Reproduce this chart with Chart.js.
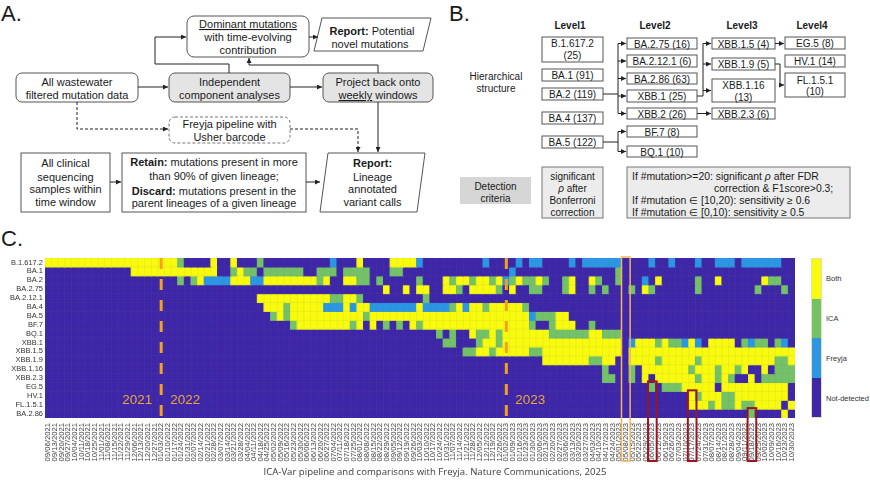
<!DOCTYPE html>
<html lang="en">
<head>
<meta charset="UTF-8">
<title>ICA-Var pipeline and comparisons with Freyja</title>
<script src="https://cdn.jsdelivr.net/npm/chart.js"></script>
<style>
    body {
        margin: 0;
        width: 870px;
        height: 486px;
        background: #fff;
        position: relative;
        overflow: hidden;
        font-family: "Liberation Sans", Arial, sans-serif;
    }
    #diagram { position: absolute; left: 0; top: 0; }
    #diagram text { font-family: "Liberation Sans", Arial, sans-serif; fill: #1a1a1a; }
    .ta { font-size: 11px; text-anchor: middle; }
    .tb { font-size: 10px; text-anchor: middle; }
    .tc { font-size: 10.4px; }
    .box { fill: #fff; stroke: #555; stroke-width: 1; }
    .grey { fill: #e4e4e4; stroke: #555; stroke-width: 1; }
    .lnk { fill: none; stroke: #222; stroke-width: 1; }
    .panel { font-size: 22px; }
    .chart-wrap { position: absolute; left: 0; top: 250px; width: 806px; height: 222px; }
    .colorbar { position: absolute; left: 811px; top: 258px; width: 11px; height: 160px; border: 1px solid #e8e0b0; box-sizing: border-box; }
    .colorbar div { height: 25%; }
    .cb-label { position: absolute; left: 826px; font-size: 7.5px; color: #333; transform: translateY(-50%); }
    .panel-c { position: absolute; left: 1px; top: 226px; font-size: 22px; color: #1a1a1a; }
    .caption { position: absolute; left: 0; top: 465px; width: 870px; text-align: center; font-family: "Open Sans", sans-serif; font-size: 9.6px; color: #3c3c3c; }
</style>
</head>
<body>
<svg id="diagram" width="870" height="225" viewBox="0 0 870 225">
    <defs>
        <marker id="ah" viewBox="0 0 6 6" refX="6" refY="3" markerWidth="5" markerHeight="5" orient="auto">
            <path d="M0,0 L6,3 L0,6 z" fill="#222"/>
        </marker>
    </defs>

    <!-- panel A -->
    <text x="1" y="21" class="panel">A.</text>

    <rect class="box" x="187" y="16" width="122" height="41" rx="7"/>
    <text class="ta" x="248" y="28"><tspan text-decoration="underline">Dominant mutations</tspan></text>
    <text class="ta" x="248" y="41">with time-evolving</text>
    <text class="ta" x="248" y="54">contribution</text>

    <polygon class="box" points="322,18 431,18 423,51 314,51"/>
    <text class="ta" x="372" y="35"><tspan font-weight="bold">Report:</tspan> Potential</text>
    <text class="ta" x="370" y="48">novel mutations</text>
    <path class="lnk" d="M309,37 L318,37" marker-end="url(#ah)"/>

    <rect class="box" x="16" y="73" width="122" height="29" rx="6"/>
    <text class="ta" x="77" y="86">All  wastewater</text>
    <text class="ta" x="77" y="99">filtered mutation data</text>

    <rect class="grey" x="169" y="73" width="121" height="29" rx="6"/>
    <text class="ta" x="229.5" y="86">Independent</text>
    <text class="ta" x="229.5" y="99">component analyses</text>

    <rect class="grey" x="323" y="73" width="110" height="29" rx="6"/>
    <text class="ta" x="378" y="86">Project back onto</text>
    <text class="ta" x="378" y="99"><tspan text-decoration="underline">weekly</tspan> windows</text>

    <path class="lnk" d="M138,87 L168,87" marker-end="url(#ah)"/>
    <path class="lnk" d="M290,87 L322,87" marker-end="url(#ah)"/>
    <path class="lnk" d="M229,73 L229,64 L155,64 L155,37 L186,37" marker-end="url(#ah)"/>
    <path class="lnk" d="M378,73 L378,65 L249,65 L249,58" marker-end="url(#ah)"/>

    <rect x="169" y="117" width="121" height="26" rx="6" fill="#fff" stroke="#777" stroke-dasharray="3,2"/>
    <text class="ta" x="229.5" y="128">Freyja pipeline with</text>
    <text class="ta" x="229.5" y="141">Usher barcode</text>
    <path class="lnk" d="M77,102 L77,129 L168,129" stroke-dasharray="3,2" marker-end="url(#ah)"/>
    <path class="lnk" d="M290,129 L358,129 L358,152" stroke-dasharray="3,2" marker-end="url(#ah)"/>
    <path class="lnk" d="M378,102 L378,152" marker-end="url(#ah)"/>

    <rect class="box" x="21" y="153" width="89" height="59"/>
    <text class="ta" x="65.5" y="167">All clinical</text>
    <text class="ta" x="65.5" y="181">sequencing</text>
    <text class="ta" x="65.5" y="193">samples within</text>
    <text class="ta" x="65.5" y="206">time window</text>

    <rect class="box" x="122" y="153" width="184" height="59"/>
    <text class="ta" x="214" y="166"><tspan font-weight="bold">Retain:</tspan> mutations present in more</text>
    <text class="ta" x="214" y="180">than 90% of given lineage;</text>
    <text class="ta" x="214" y="195"><tspan font-weight="bold">Discard:</tspan> mutations present in the</text>
    <text class="ta" x="214" y="207">parent lineages of a given lineage</text>
    <path class="lnk" d="M110,182 L121,182" marker-end="url(#ah)"/>
    <path class="lnk" d="M306,182 L320,182" marker-end="url(#ah)"/>

    <polygon class="box" points="328,153 425,153 417,212 320,212"/>
    <text class="ta" x="372.5" y="167" font-weight="bold">Report:</text>
    <text class="ta" x="372.5" y="181">Lineage</text>
    <text class="ta" x="372.5" y="193">annotated</text>
    <text class="ta" x="372.5" y="206">variant calls</text>

    <!-- panel B -->
    <text x="449" y="21" class="panel">B.</text>
    <text class="tb" x="570" y="29" font-weight="bold" font-size="10.5">Level1</text>
    <text class="tb" x="655" y="29" font-weight="bold" font-size="10.5">Level2</text>
    <text class="tb" x="742" y="29" font-weight="bold" font-size="10.5">Level3</text>
    <text class="tb" x="812" y="29" font-weight="bold" font-size="10.5">Level4</text>
    <text class="tb" x="496" y="80" fill="#333">Hierarchical</text>
    <text class="tb" x="496" y="92">structure</text>

    <rect class="box" x="542" y="37" width="61" height="25"/>
    <text class="tb" x="572.5" y="47">B.1.617.2</text>
    <text class="tb" x="572.5" y="59">(25)</text>
    <rect class="box" x="542" y="69" width="61" height="12"/>
    <text class="tb" x="572.5" y="79">BA.1 (91)</text>
    <rect class="box" x="542" y="88" width="61" height="12"/>
    <text class="tb" x="572.5" y="98">BA.2 (119)</text>
    <rect class="box" x="542" y="112" width="61" height="12"/>
    <text class="tb" x="572.5" y="122">BA.4 (137)</text>
    <rect class="box" x="542" y="136" width="61" height="12"/>
    <text class="tb" x="572.5" y="146">BA.5 (122)</text>

    <rect class="box" x="627" y="38" width="70" height="11"/>
    <text class="tb" x="662" y="47.5">BA.2.75 (16)</text>
    <rect class="box" x="627" y="55" width="70" height="12"/>
    <text class="tb" x="662" y="65">BA.2.12.1 (6)</text>
    <rect class="box" x="627" y="73" width="70" height="11"/>
    <text class="tb" x="662" y="82.5">BA.2.86 (63)</text>
    <rect class="box" x="627" y="90" width="70" height="12"/>
    <text class="tb" x="662" y="100">XBB.1 (25)</text>
    <rect class="box" x="627" y="108" width="70" height="11"/>
    <text class="tb" x="662" y="117.5">XBB.2 (26)</text>
    <rect class="box" x="627" y="126" width="70" height="11"/>
    <text class="tb" x="662" y="135.5">BF.7 (8)</text>
    <rect class="box" x="627" y="146" width="70" height="11"/>
    <text class="tb" x="662" y="155.5">BQ.1 (10)</text>

    <rect class="box" x="712" y="38" width="63" height="11"/>
    <text class="tb" x="743.5" y="47.5">XBB.1.5 (4)</text>
    <rect class="box" x="712" y="58" width="63" height="12"/>
    <text class="tb" x="743.5" y="68">XBB.1.9 (5)</text>
    <rect class="box" x="712" y="79" width="63" height="23"/>
    <text class="tb" x="743.5" y="88.5">XBB.1.16</text>
    <text class="tb" x="743.5" y="100.5">(13)</text>
    <rect class="box" x="712" y="108" width="63" height="11"/>
    <text class="tb" x="743.5" y="117.5">XBB.2.3 (6)</text>

    <rect class="box" x="785" y="37" width="60" height="12"/>
    <text class="tb" x="815" y="47">EG.5 (8)</text>
    <rect class="box" x="785" y="55" width="60" height="12"/>
    <text class="tb" x="815" y="65">HV.1 (14)</text>
    <rect class="box" x="785" y="73" width="60" height="24"/>
    <text class="tb" x="815" y="83.5">FL.1.5.1</text>
    <text class="tb" x="815" y="95">(10)</text>

    <path class="lnk" d="M603,94 L618,94 M618,43.5 L618,113.5 M618,131.5 L618,151.5 M603,142 L618,142 M697,96 L703,96 M703,43.5 L703,96 M775,64 L780,64 L780,85"/>
    <path class="lnk" d="M618,43.5 L626,43.5" marker-end="url(#ah)"/>
    <path class="lnk" d="M618,61 L626,61" marker-end="url(#ah)"/>
    <path class="lnk" d="M618,78.5 L626,78.5" marker-end="url(#ah)"/>
    <path class="lnk" d="M618,96 L626,96" marker-end="url(#ah)"/>
    <path class="lnk" d="M618,113.5 L626,113.5" marker-end="url(#ah)"/>
    <path class="lnk" d="M618,131.5 L626,131.5" marker-end="url(#ah)"/>
    <path class="lnk" d="M618,151.5 L626,151.5" marker-end="url(#ah)"/>
    <path class="lnk" d="M703,43.5 L711,43.5" marker-end="url(#ah)"/>
    <path class="lnk" d="M703,64 L711,64" marker-end="url(#ah)"/>
    <path class="lnk" d="M703,90.5 L711,90.5" marker-end="url(#ah)"/>
    <path class="lnk" d="M697,113.5 L711,113.5" marker-end="url(#ah)"/>
    <path class="lnk" d="M775,43.5 L784,43.5" marker-end="url(#ah)"/>
    <path class="lnk" d="M780,85 L784,85" marker-end="url(#ah)"/>

    <rect x="460" y="177" width="71" height="27" fill="#d6d6d6"/>
    <text class="tb" x="495.5" y="190">Detection</text>
    <text class="tb" x="495.5" y="202">criteria</text>

    <rect x="542" y="167" width="61" height="51" fill="#ececec" stroke="#777"/>
    <text class="tb" x="572.5" y="179.5">significant</text>
    <text class="tb" x="572.5" y="191.5"><tspan font-style="italic">ρ</tspan> after</text>
    <text class="tb" x="572.5" y="203.5">Bonferroni</text>
    <text class="tb" x="572.5" y="215.5">correction</text>

    <rect x="627" y="167" width="223" height="51" fill="#ececec" stroke="#777"/>
    <text class="tc" x="632" y="179.5">If #mutation&gt;=20: significant <tspan font-style="italic">ρ</tspan> after FDR</text>
    <text class="tc" x="714" y="191.5">correction &amp; F1score&gt;0.3;</text>
    <text class="tc" x="632" y="203.5">If #mutation ∈ [10,20): sensitivity ≥ 0.6</text>
    <text class="tc" x="632" y="215.5">If #mutation ∈ [0,10): sensitivity ≥ 0.5</text>
</svg>

<div class="panel-c">C.</div>
<div class="chart-wrap"><canvas id="heatmap"></canvas></div>
<div class="colorbar" id="colorbar"></div>
<div class="caption">ICA-Var pipeline and comparisons with Freyja. Nature Communications, 2025</div>

<script>
    // lineages, top to bottom
    const variants = ['B.1.617.2', 'BA.1', 'BA.2', 'BA.2.75', 'BA.2.12.1', 'BA.4', 'BA.5', 'BF.7', 'BQ.1',
        'XBB.1', 'XBB.1.5', 'XBB.1.9', 'XBB.1.16', 'XBB.2.3', 'EG.5', 'HV.1', 'FL.1.5.1', 'BA.2.86'];

    // weekly windows (x tick labels)
    const weeks = [
        '09/06/2021', '09/13/2021', '09/20/2021', '09/27/2021', '10/04/2021', '10/11/2021', '10/18/2021', '10/25/2021',
        '11/01/2021', '11/08/2021', '11/15/2021', '11/22/2021', '11/29/2021', '12/06/2021', '12/13/2021', '12/20/2021', '12/27/2021',
        '01/03/2022', '01/10/2022', '01/17/2022', '01/24/2022', '01/31/2022', '02/07/2022', '02/14/2022', '02/21/2022', '02/28/2022',
        '03/07/2022', '03/14/2022', '03/21/2022', '03/28/2022', '04/04/2022', '04/11/2022', '04/18/2022', '04/25/2022', '05/02/2022',
        '05/09/2022', '05/16/2022', '05/23/2022', '05/30/2022', '06/06/2022', '06/13/2022', '06/20/2022', '06/27/2022', '07/04/2022',
        '07/11/2022', '07/18/2022', '07/25/2022', '08/01/2022', '08/08/2022', '08/15/2022', '08/22/2022', '08/29/2022', '09/05/2022',
        '09/12/2022', '09/19/2022', '09/26/2022', '10/03/2022', '10/10/2022', '10/17/2022', '10/24/2022', '10/31/2022', '11/07/2022',
        '11/14/2022', '11/21/2022', '11/28/2022', '12/05/2022', '12/12/2022', '12/19/2022', '12/26/2022',
        '01/02/2023', '01/09/2023', '01/16/2023', '01/23/2023', '01/30/2023', '02/06/2023', '02/13/2023', '02/20/2023', '02/27/2023',
        '03/06/2023', '03/13/2023', '03/20/2023', '03/27/2023', '04/03/2023', '04/10/2023', '04/17/2023', '04/24/2023', '05/01/2023',
        '05/08/2023', '05/15/2023', '05/22/2023', '05/29/2023', '06/05/2023', '06/12/2023', '06/19/2023', '06/26/2023', '07/03/2023',
        '07/10/2023', '07/17/2023', '07/24/2023', '07/31/2023', '08/07/2023', '08/14/2023', '08/21/2023', '08/28/2023', '09/04/2023',
        '09/11/2023', '09/18/2023', '09/25/2023', '10/02/2023', '10/09/2023', '10/16/2023', '10/23/2023', '10/30/2023'
    ];

    // one letter per week, groups of ten weeks: Y = both, G = ICA only, F = Freyja only, N = not detected
    const calls = [
        'YYYYYYYYYY YYYYYYYYYY GNNNNYNNYN NNGNNNNNNN NNNFNNNYNN NNYYYYFNNN NNNNNNFNNN NFNFFNNNNF NFFFFFFNNN NFNNFNNNFN NFFFNFFFFF FNN',
        'NNNNNNNNNN NNNYYYYYYY YYYYYYNNGY GGNGGGGGGN NGGGNGGGGN NNGGNNNNNN NNNNNNNNNN FNNNNNNNNN NNNNNNGNNN NNNNNNNNNN NNNNNNNNNN NNN',
        'NNNNNNNNNN NNNNNNNNNN GNGYFFFFYY YFFYYYYYYY YGYNNYYGGN GNNNNNGNNN YGYYGYYGYF GYGGYGNNGY NNYGNNGNNN FNYNNNNNGN NYNNNNNNYG GNN',
        'NNNNNNNNNN NNNNNNNNNN NNNNNNNNNN NNNNNNNNNN NNNNNNNNNN NYNNYNYYNN YYGNYYYYGN YNNGGNNNGY NNGNGNNNGN YGNNNNNNGN NNNNNNNGNN NGN',
        'NNNNNNNNNN NNNNNNNNNN NNNNNNNNNN NNYYYYYYYY YYYGGYYGNN NNNNNNNGNN NNNNNNNNNN NNNNNNNNNN NNNNNNNNNN NNNNNNNNNN NNNNNNNNNN NNN',
        'NNNNNNNNNN NNNNNNNNNN NNNNNNNNNN NNNYYYGYYY YYFFFYFYYF FFFFFFYFFF FGYFYYGYYY YYGNNNNNNN NNNNNNNNNN NNNNNNNNNN NNNNNNNNNN NNN',
        'NNNNNNNNNN NNNNNNNNNN NNNNNNNNNN NNNNGYGYYY YYYYYYYYGY YYYYYYYYYY YYYYYYYYYY YYYFGGGYYN NNNNNNNNNN NNNNNNNNNN NNNNNNNNNN NNN',
        'NNNNNNNNNN NNNNNNNNNN NNNNNNNNNN NNNNNNNGYY YYYYYYGYNY NGNGNYGYYY YYYYYYYYYY YYYGNNGYYY NNGNNNNNNN NNNNNNNNNN NNNNNNNNNN NNN',
        'NNNNNNNNNN NNNNNNNNNN NNNNNNNNNN NNNNNNNNNN NNNNNNNNNN NNNNNNNNNG NGNNYGGYGY YYYYYYGGGG GGYYGGGNNN NNNNNNNNNN NNNNNNNNNN NNN',
        'NNNNNNNNNN NNNNNNNNNN NNNNNNNNNN NNNNNNNNNN NNNNNNNNNN NNNNNNNNNN GGNNNGYYGY YYYYYYYYYY YYYYYYYNFY YYGYGGFYFN YYYYNGFGGN GFN',
        'NNNNNNNNNN NNNNNNNNNN NNNNNNNNNN NNNNNNNNNN NNNNNNNNNN NNNNNNNNNN NNNGGYYGYY YYYGGYYYYY YYYYYYYNYY YYYYYYYYYY YYYYYYYYYY YYY',
        'NNNNNNNNNN NNNNNNNNNN NNNNNNNNNN NNNNNNNNNN NNNNNNNNNN NNNNNNNNNN NNNNNNNNNN NNNNNYYYYY YYGGYYNNYY YYGYYYYYGY YYYYYYYYYY GGY',
        'NNNNNNNNNN NNNNNNNNNN NNNNNNNNNN NNNNNNNNNN NNNNNNNNNN NNNNNNNNNN NNNNNNNNNN NNNNNNNNNN NNNNGNNNGN YYYYYYYGYY YGYYGYNNYN GGG',
        'NNNNNNNNNN NNNNNNNNNN NNNNNNNNNN NNNNNNNNNN NNNNNNNNNN NNNNNNNNNN NNNNNNNNNN NNNNNNNNNN NNNNGGNNGN YNYYYYYYGY YGYGNNYNGG GGG',
        'NNNNNNNNNN NNNNNNNNNN NNNNNNNNNN NNNNNNNNNN NNNNNNNNNN NNNNNNNNNN NNNNNNNNNN NNNNNNNNNN NNNNNNNNNN NGNGGGYYYY YNYYYYYYYY YYN',
        'NNNNNNNNNN NNNNNNNNNN NNNNNNNNNN NNNNNNNNNN NNNNNNNNNN NNNNNNNNNN NNNNNNNNNN NNNNNNNNNN NNNNNNNNNN NNNNNNNYGY YYGGYYYYYY YYN',
        'NNNNNNNNNN NNNNNNNNNN NNNNNNNNNN NNNNNNNNNN NNNNNNNNNN NNNNNNNNNN NNNNNNNNNN NNNNNNNNNN NNNNNNNNNN NNNNNNNYYY GYGGYGGYYY YNY',
        'NNNNNNNNNN NNNNNNNNNN NNNNNNNNNN NNNNNNNNNN NNNNNNNNNN NNNNNNNNNN NNNNNNNNNN NNNNNNNNNN NNNNNNNNNN NNNNNNNNNN NNNNNNGNNN NYN'
    ];

    const categories = ['Both', 'ICA', 'Freyja', 'Not-detected'];
    const categoryCodes = ['Y', 'G', 'F', 'N'];
    const categoryColors = ['#f9fb0e', '#74c268', '#2a96e4', '#3e26a8'];

    // year separators and highlighted weeks
    const yearBreaks = [
        { week: '01/03/2022', before: '2021', after: '2022' },
        { week: '01/02/2023', before: '', after: '2023' }
    ];
    const highlights = [
        { week: '05/08/2023', from: 'B.1.617.2', color: '#f2b45a', width: 1.5 },
        { week: '06/05/2023', from: 'EG.5', color: '#9c1420', width: 2 },
        { week: '07/17/2023', from: 'HV.1', color: '#9c1420', width: 2 },
        { week: '09/18/2023', from: 'BA.2.86', color: '#9c1420', width: 2 }
    ];

    function colorFor(code) {
        const i = categoryCodes.indexOf(code);
        return categoryColors[i < 0 ? 3 : i];
    }

    // colour bar (top = Both)
    const bar = document.getElementById('colorbar');
    categories.forEach((name, i) => {
        const seg = document.createElement('div');
        seg.style.background = categoryColors[i];
        bar.appendChild(seg);
        const lab = document.createElement('div');
        lab.className = 'cb-label';
        lab.textContent = name;
        lab.style.top = (258 + 160 * (i + 0.5) / categories.length) + 'px';
        document.body.appendChild(lab);
    });

    const marksPlugin = {
        id: 'marks',
        afterDatasetsDraw(chart) {
            const ctx = chart.ctx;
            const xs = chart.scales.x;
            const ys = chart.scales.y;
            const area = chart.chartArea;
            const half = (xs.getPixelForValue(1) - xs.getPixelForValue(0)) / 2;

            // faint cell grid
            ctx.save();
            ctx.strokeStyle = 'rgba(120,120,120,0.2)';
            ctx.lineWidth = 0.5;
            ctx.beginPath();
            weeks.forEach((w, c) => {
                const gx = xs.getPixelForValue(c) - half;
                ctx.moveTo(gx, area.top);
                ctx.lineTo(gx, area.bottom);
            });
            variants.forEach((v, r) => {
                const gy = ys.getPixelForValue(r);
                ctx.moveTo(area.left, gy);
                ctx.lineTo(area.right, gy);
            });
            ctx.stroke();
            ctx.restore();

            yearBreaks.forEach(b => {
                const px = xs.getPixelForValue(weeks.indexOf(b.week));
                ctx.save();
                ctx.strokeStyle = '#f4a21e';
                ctx.lineWidth = 3;
                ctx.setLineDash([11, 10]);
                ctx.beginPath();
                ctx.moveTo(px, area.top);
                ctx.lineTo(px, area.bottom);
                ctx.stroke();
                ctx.fillStyle = '#eea43c';
                ctx.font = '13.5px "Liberation Sans", Arial, sans-serif';
                ctx.textBaseline = 'middle';
                const ty = ys.getPixelForValue(16);
                ctx.textAlign = 'right';
                if (b.before) ctx.fillText(b.before, px - 9, ty);
                ctx.textAlign = 'left';
                ctx.fillText(b.after, px + 9, ty);
                ctx.restore();
            });

            highlights.forEach(h => {
                const px = xs.getPixelForValue(weeks.indexOf(h.week));
                const top = ys.getPixelForValue(variants.indexOf(h.from));
                ctx.save();
                ctx.strokeStyle = h.color;
                ctx.lineWidth = h.width;
                ctx.strokeRect(px - half - 1, top - 1, 2 * half + 2, area.bottom + 44 - top);
                ctx.restore();
            });
        }
    };

    function initChart() {
        const ctx = document.getElementById('heatmap').getContext('2d');
        const datasets = variants.map((name, r) => {
            const row = calls[r].replace(/ /g, '');
            return {
                label: name,
                data: weeks.map(() => 1),
                backgroundColor: weeks.map((w, c) => colorFor(row[c])),
                borderWidth: 0,
                inflateAmount: 0.6,
                barPercentage: 1,
                categoryPercentage: 1
            };
        });

        new Chart(ctx, {
            type: 'bar',
            data: { labels: weeks, datasets: datasets },
            options: {
                responsive: true,
                maintainAspectRatio: false,
                animation: false,
                layout: { padding: { top: 8, right: 2, left: 0, bottom: 0 } },
                plugins: { legend: { display: false }, tooltip: { enabled: false } },
                scales: {
                    x: {
                        stacked: true,
                        grid: { display: false, drawTicks: false },
                        border: { display: false },
                        ticks: {
                            autoSkip: false,
                            minRotation: 90,
                            maxRotation: 90,
                            padding: 5,
                            color: '#444',
                            font: { family: '"Liberation Sans", Arial, sans-serif', size: 7.7 }
                        },
                        afterFit: (s) => { s.height = 54; }
                    },
                    y: {
                        stacked: true,
                        min: 0,
                        max: variants.length,
                        reverse: true,
                        grid: { display: false, drawTicks: false },
                        border: { display: false },
                        afterBuildTicks: (s) => { s.ticks = variants.map((v, i) => ({ value: i + 0.5 })); },
                        ticks: {
                            autoSkip: false,
                            padding: 2,
                            color: '#333',
                            font: { family: '"Liberation Sans", Arial, sans-serif', size: 7.5 },
                            callback: (value, index) => variants[index]
                        },
                        afterFit: (s) => { s.width = 45; }
                    }
                }
            },
            plugins: [marksPlugin]
        });
    }

    document.addEventListener('DOMContentLoaded', initChart);
</script>
</body>
</html>
